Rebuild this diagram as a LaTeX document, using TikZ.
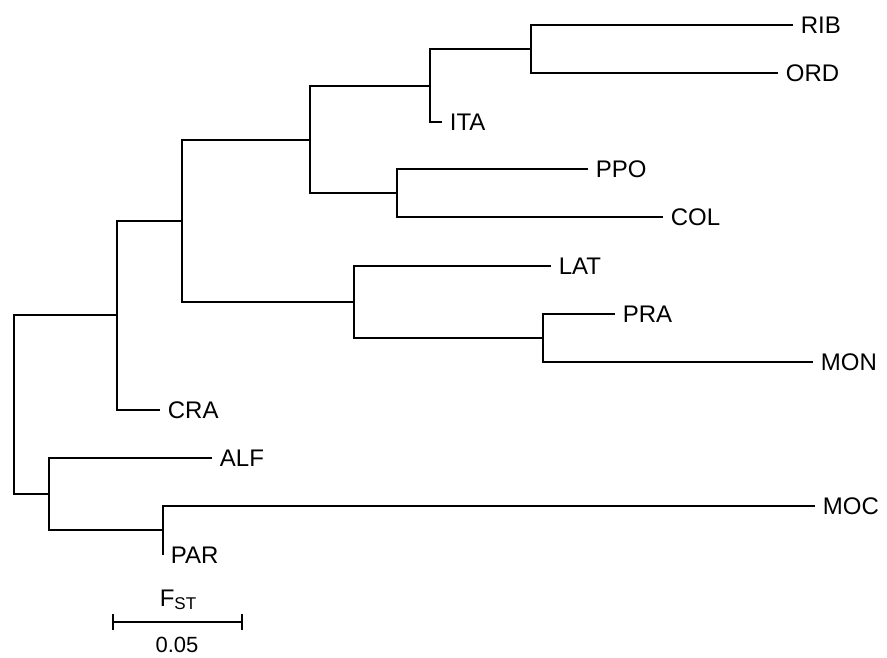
\documentclass[tikz,border=0pt]{standalone}
\usepackage{fontspec}
\setmainfont{Liberation Sans}

\begin{document}
\begin{tikzpicture}[x=1pt,y=-1pt,line width=1.8pt]
            \tikzstyle{every node}=[font=\fontsize{24}{28}\selectfont]
            \tikzstyle{taxon}=[anchor=west,inner xsep=7pt,inner ysep=0pt]
            \useasboundingbox (0,0) rectangle (887,657);
            % inner nodes
            \coordinate (root) at (14,404);
            \coordinate (ncra) at (117,315);
            \coordinate (nmid) at (182,221);
            \coordinate (ntop) at (310,140);
            \coordinate (nita) at (430,86);
            \coordinate (nrib) at (531,49);
            \coordinate (nppo) at (397,193);
            \coordinate (nlat) at (354,302);
            \coordinate (npra) at (543,338);
            \coordinate (nalf) at (49,494);
            \coordinate (nmoc) at (163,530);
            % tips
            \coordinate (rib) at (793,25);
            \coordinate (ord) at (778,73);
            \coordinate (ita) at (442,122);
            \coordinate (ppo) at (588,169);
            \coordinate (col) at (663,217);
            \coordinate (lat) at (551,266);
            \coordinate (pra) at (615,314);
            \coordinate (mon) at (813,362);
            \coordinate (cra) at (160,410);
            \coordinate (alf) at (212,458);
            \coordinate (moc) at (815,506);
            \coordinate (par) at (163,555);
            \node[taxon] (ribl) at (rib) {RIB};
            \node[taxon] (ordl) at (ord) {ORD};
            \node[taxon] (ital) at (ita) {ITA};
            \node[taxon] (ppol) at (ppo) {PPO};
            \node[taxon] (coll) at (col) {COL};
            \node[taxon] (latl) at (lat) {LAT};
            \node[taxon] (pral) at (pra) {PRA};
            \node[taxon] (monl) at (mon) {MON};
            \node[taxon] (cral) at (cra) {CRA};
            \node[taxon] (alfl) at (alf) {ALF};
            \node[taxon] (mocl) at (moc) {MOC};
            \node[taxon] (parl) at (par) {PAR};

            \draw (root) |- (ncra);
            \draw (root) |- (nalf);
            \draw (ncra) |- (nmid);
            \draw (ncra) |- (cra);
            \draw (nmid) |- (ntop);
            \draw (nmid) |- (nlat);
            \draw (ntop) |- (nita);
            \draw (ntop) |- (nppo);
            \draw (nita) |- (nrib);
            \draw (nita) |- (ita);
            \draw (nrib) |- (rib);
            \draw (nrib) |- (ord);
            \draw (nppo) |- (ppo);
            \draw (nppo) |- (col);
            \draw (nlat) |- (lat);
            \draw (nlat) |- (npra);
            \draw (npra) |- (pra);
            \draw (npra) |- (mon);
            \draw (nalf) |- (alf);
            \draw (nalf) |- (nmoc);
            \draw (nmoc) |- (moc);
            \draw (nmoc) -- (par);

            % scale bar
            \coordinate (s0) at (113,622);
            \coordinate (s1) at (242,622);
            \draw (s0) -- (s1);
            \draw (s0) ++(0,-8) -- ++(0,16);
            \draw (s1) ++(0,-8) -- ++(0,16);
            \node (fst) at (178,600) {F\raisebox{-3pt}{\fontsize{17}{17}\selectfont ST}};
            \node[font=\fontsize{22}{26}\selectfont] (len) at (177,645) {0.05};
          \end{tikzpicture}
\end{document}
